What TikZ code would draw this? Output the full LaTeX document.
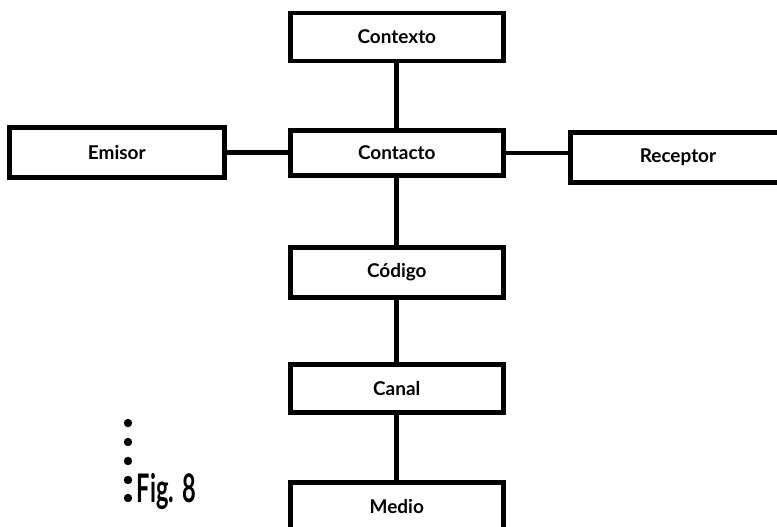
\documentclass[tikz,border=0pt]{standalone}
\usepackage{fontspec}
\setmainfont{Lato}

\tikzset{
  caja/.style={draw,line width=3.5pt,minimum width=5.33cm,minimum height=1.2cm,
    font=\fontsize{13.5}{15}\selectfont\bfseries,inner sep=0pt},
  enlace/.style={line width=3.5pt}
}

\begin{document}
\begin{tikzpicture}
  \useasboundingbox (0,0) rectangle (19.425,13.175);
  \clip (0,0) rectangle (19.425,13.175);
  \node[caja] (contexto) at (9.92,12.25) {Contexto};
  \node[caja,minimum height=1.12cm] (contacto) at (9.92,9.35) {Contacto};
  \node[caja,minimum width=5.38cm,minimum height=1.25cm] (emisor) at (2.92,9.37) {Emisor};
  \node[caja,minimum width=5.38cm,minimum height=1.25cm] (receptor) at (16.95,9.24) {Receptor};
  \node[caja,minimum height=1.25cm] (codigo) at (9.92,6.36) {Código};
  \node[caja] (canal) at (9.92,3.46) {Canal};
  \node[caja] (medio) at (9.92,0.51) {Medio};
  \draw[enlace] (contexto) -- (contacto);
  \draw[enlace] (emisor.east) -- (emisor.east -| contacto.west);
  \draw[enlace] (contacto.east) -- (contacto.east -| receptor.west);
  \draw[enlace] (contacto) -- (codigo);
  \draw[enlace] (codigo) -- (canal);
  \draw[enlace] (canal) -- (medio);
  \foreach \y in {2.6,2.125,1.65,1.175,0.725}
    \fill (3.2,\y) circle (0.105);
  \node[xscale=0.6,font=\fontsize{28}{30}\selectfont\bfseries,anchor=west] (fig) at (3.35,0.9) {Fig. 8};
\end{tikzpicture}
\end{document}
